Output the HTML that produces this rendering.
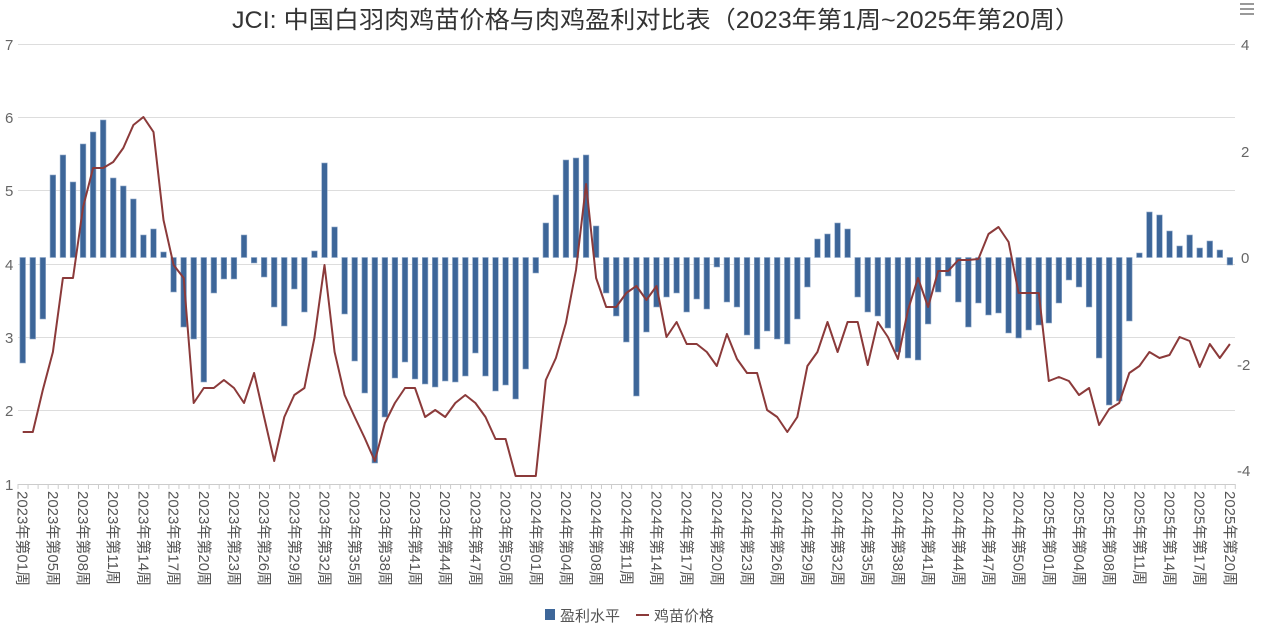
<!DOCTYPE html>
<html><head><meta charset="utf-8">
<style>
html,body{margin:0;padding:0;background:#fff;}
svg{display:block;font-family:"Liberation Sans","Noto Sans CJK SC",sans-serif;}
</style></head>
<body>
<svg id="c" width="1265" height="638" viewBox="0 0 1265 638" xmlns="http://www.w3.org/2000/svg">
<text x="656" y="28" text-anchor="middle" font-size="24" fill="#333" textLength="848" lengthAdjust="spacingAndGlyphs">JCI: 中国白羽肉鸡苗价格与肉鸡盈利对比表（2023年第1周~2025年第20周）</text>
<g stroke="#999" stroke-width="2"><line x1="1240" y1="4" x2="1254" y2="4"/><line x1="1240" y1="9" x2="1254" y2="9"/><line x1="1240" y1="14" x2="1254" y2="14"/></g>
<g stroke="#ddd" stroke-width="1">
<line x1="18" y1="44.5" x2="1235" y2="44.5"/><line x1="18" y1="117.5" x2="1235" y2="117.5"/><line x1="18" y1="190.5" x2="1235" y2="190.5"/><line x1="18" y1="264.5" x2="1235" y2="264.5"/><line x1="18" y1="337.5" x2="1235" y2="337.5"/><line x1="18" y1="410.5" x2="1235" y2="410.5"/>
</g>
<line x1="18" y1="484.5" x2="1235" y2="484.5" stroke="#ccc"/>
<g font-size="15" fill="#666" text-anchor="start">
<text x="5" y="50">7</text><text x="5" y="123">6</text><text x="5" y="196">5</text><text x="5" y="270">4</text><text x="5" y="343">3</text><text x="5" y="416">2</text><text x="5" y="490">1</text>
</g>
<g font-size="15" fill="#666" text-anchor="start">
<text x="1241" y="50">4</text><text x="1241" y="157">2</text><text x="1241" y="263">0</text><text x="1237" y="370">-2</text><text x="1237" y="476">-4</text>
</g>
<g id="ticks" stroke="#ccc"></g>
<g id="bars"></g>
<polyline id="ln" fill="none" stroke="#8b3a3a" stroke-width="2" stroke-linejoin="round"/>
<g id="xl" font-size="15" fill="#555">
<text>2023年第01周</text><text>2023年第05周</text><text>2023年第08周</text><text>2023年第11周</text><text>2023年第14周</text><text>2023年第17周</text><text>2023年第20周</text><text>2023年第23周</text><text>2023年第26周</text><text>2023年第29周</text><text>2023年第32周</text><text>2023年第35周</text><text>2023年第38周</text><text>2023年第41周</text><text>2023年第44周</text><text>2023年第47周</text><text>2023年第50周</text>
<text>2024年第01周</text><text>2024年第04周</text><text>2024年第08周</text><text>2024年第11周</text><text>2024年第14周</text><text>2024年第17周</text><text>2024年第20周</text><text>2024年第23周</text><text>2024年第26周</text><text>2024年第29周</text><text>2024年第32周</text><text>2024年第35周</text><text>2024年第38周</text><text>2024年第41周</text><text>2024年第44周</text><text>2024年第47周</text><text>2024年第50周</text>
<text>2025年第01周</text><text>2025年第04周</text><text>2025年第08周</text><text>2025年第11周</text><text>2025年第14周</text><text>2025年第17周</text><text>2025年第20周</text>
</g>
<rect x="545" y="609" width="10" height="11" fill="#3d6699"/>
<text x="560" y="621" font-size="15" fill="#555">盈利水平</text>
<line x1="636" y1="615" x2="649" y2="615" stroke="#8b3a3a" stroke-width="2"/>
<text x="654" y="621" font-size="15" fill="#555">鸡苗价格</text>
</svg>
<script>
var B=[363,339,319,175,155,182,144,132,120,178,186,199,235,229,252,292,327,339,382,293,279,279,235,263,277,307,326,289,312,251,163,227,314,361,393,463,417,378,362,379,
384,387,381,382,376,353,376,391,385,399,369,273,223,195,160,158,155,226,293,316,342,396,332,307,297,293,312,299,309,267,302,307,335,349,331,339,344,319,287,239,234,
223,229,297,312,316,328,352,358,360,324,292,276,302,327,303,315,313,333,338,330,325,323,303,280,287,307,358,405,401,321,253,212,215,231,246,235,248,241,250,265];
var L=[432,432,390,352,278,278,207,168,168,162,148,125,117,132,220,265,278,403,388,388,380,388,403,373,417,461,417,395,388,338,265,352,395,417,438,461,423,403,388,388,
417,410,417,403,395,403,417,439,439,476,476,476,380,358,323,270,184,278,307,307,293,286,300,286,337,322,344,344,352,366,334,359,373,373,410,417,432,417,366,352,322,
352,322,322,365,322,337,359,310,278,307,271,271,260,260,259,234,227,242,293,293,293,381,377,381,395,388,425,409,403,373,366,352,358,355,337,341,367,344,358,344];
var ns="http://www.w3.org/2000/svg",bg=document.getElementById("bars"),pts=[],base=257.5,sp=10.06,x0=22.7;
for(var i=0;i<121;i++){var cx=x0+sp*i,y=B[i];var r=document.createElementNS(ns,"rect");
var t=Math.min(y,base),h=Math.abs(y-base);r.setAttribute("x",cx-2.8);r.setAttribute("y",t);r.setAttribute("width",5.6);r.setAttribute("height",Math.max(h,1));
r.setAttribute("fill","#3d6699");r.setAttribute("stroke","#8fa8c8");r.setAttribute("stroke-width","0.6");bg.appendChild(r);pts.push(cx.toFixed(1)+","+L[i]);}
document.getElementById("ln").setAttribute("points",pts.join(" "));
var tg=document.getElementById("ticks");
for(var i=0;i<=121;i++){var x=18+sp*i;var l=document.createElementNS(ns,"line");l.setAttribute("x1",x);l.setAttribute("x2",x);l.setAttribute("y1",484);l.setAttribute("y2",489);tg.appendChild(l);}
var ts=document.getElementById("xl").getElementsByTagName("text");
for(var k=0;k<ts.length;k++){var x=x0+sp*3*k-5;ts[k].setAttribute("x",x);ts[k].setAttribute("y",491);ts[k].setAttribute("transform","rotate(90 "+x+" 491)");}
</script>
</body></html>
